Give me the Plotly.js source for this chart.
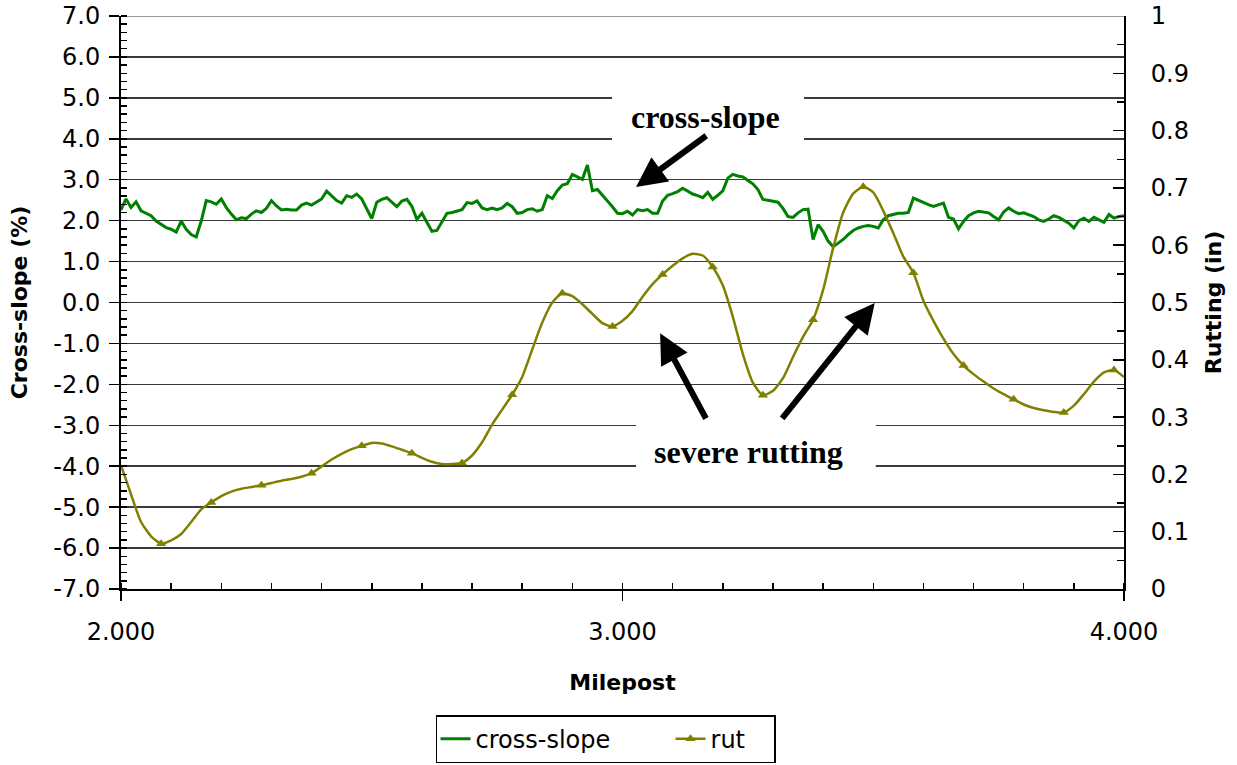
<!DOCTYPE html>
<html>
<head>
<meta charset="utf-8">
<script src="https://cdn.plot.ly/plotly-3.0.1.min.js"></script>
<style>html,body{margin:0;padding:0;background:#fff;}#chart{width:1237px;height:765px;}</style>
</head>
<body>
<div id="chart"></div>
<script>
// ---- data ----
const csStartMile = 2.00;
const csStepMile = 0.01;
const crossSlopePct = [
  2.26, 2.53, 2.32, 2.46, 2.24, 2.18, 2.12, 1.99, 1.91, 1.83,
  1.79, 1.72, 1.99, 1.79, 1.66, 1.60, 1.99, 2.49, 2.46, 2.40,
  2.53, 2.32, 2.16, 2.02, 2.07, 2.05, 2.16, 2.24, 2.20, 2.30,
  2.49, 2.36, 2.26, 2.28, 2.26, 2.26, 2.38, 2.43, 2.38, 2.45,
  2.53, 2.72, 2.61, 2.49, 2.43, 2.61, 2.57, 2.65, 2.53, 2.30,
  2.05, 2.45, 2.52, 2.56, 2.44, 2.34, 2.48, 2.52, 2.35, 2.03,
  2.18, 1.97, 1.74, 1.76, 1.97, 2.18, 2.20, 2.23, 2.27, 2.44,
  2.42, 2.48, 2.31, 2.27, 2.31, 2.27, 2.31, 2.42, 2.34, 2.18,
  2.20, 2.27, 2.29, 2.23, 2.27, 2.61, 2.54, 2.73, 2.87, 2.90,
  3.13, 3.07, 3.01, 3.36, 2.73, 2.76, 2.61, 2.48, 2.34, 2.18,
  2.17, 2.23, 2.14, 2.27, 2.24, 2.27, 2.18, 2.18, 2.48, 2.62,
  2.66, 2.71, 2.79, 2.71, 2.65, 2.61, 2.56, 2.69, 2.52, 2.62,
  2.73, 3.04, 3.13, 3.09, 3.07, 2.98, 2.90, 2.76, 2.52, 2.50,
  2.48, 2.45, 2.30, 2.10, 2.08, 2.19, 2.27, 2.28, 1.54, 1.90,
  1.74, 1.50, 1.36, 1.45, 1.54, 1.66, 1.76, 1.82, 1.86, 1.88,
  1.86, 1.82, 2.02, 2.12, 2.15, 2.18, 2.18, 2.20, 2.55, 2.49,
  2.43, 2.39, 2.35, 2.39, 2.43, 2.08, 2.04, 1.80, 1.98, 2.12,
  2.19, 2.23, 2.21, 2.19, 2.10, 2.02, 2.21, 2.31, 2.23, 2.17,
  2.19, 2.15, 2.10, 2.02, 1.98, 2.04, 2.12, 2.08, 2.02, 1.94,
  1.82, 2.00, 2.06, 1.98, 2.08, 2.02, 1.96, 2.15, 2.06, 2.10,
  2.12
];

const rutStartMile = 2.00;
const rutStepMile = 0.02;
const rutInches = [
  0.216, 0.165, 0.117, 0.092, 0.079, 0.085, 0.096, 0.117, 0.139, 0.151,
  0.162, 0.170, 0.175, 0.178, 0.181, 0.185, 0.189, 0.192, 0.196, 0.202,
  0.214, 0.226, 0.236, 0.244, 0.250, 0.255, 0.254, 0.249, 0.243, 0.237,
  0.229, 0.222, 0.218, 0.218, 0.220, 0.233, 0.256, 0.287, 0.313, 0.339,
  0.370, 0.418, 0.465, 0.500, 0.516, 0.511, 0.497, 0.480, 0.464, 0.458,
  0.468, 0.485, 0.510, 0.532, 0.549, 0.564, 0.577, 0.585, 0.582, 0.562,
  0.530, 0.475, 0.410, 0.360, 0.338, 0.346, 0.368, 0.405, 0.440, 0.470,
  0.522, 0.595, 0.657, 0.690, 0.702, 0.692, 0.660, 0.621, 0.580, 0.552,
  0.503, 0.468, 0.437, 0.410, 0.390, 0.375, 0.362, 0.350, 0.340, 0.331,
  0.322, 0.316, 0.312, 0.309, 0.308, 0.320, 0.340, 0.362, 0.378, 0.382,
  0.370
];
const rutMarkerEvery = 5;   // a triangle on every 5th reading
const rutMarkerOffset = 4;

const xTickVals = [2, 3, 4];
const xTickLabels = ['2.000', '3.000', '4.000'];
const leftTickVals = [-7, -6, -5, -4, -3, -2, -1, 0, 1, 2, 3, 4, 5, 6, 7];
const leftTickLabels = ['-7.0', '-6.0', '-5.0', '-4.0', '-3.0', '-2.0', '-1.0', '0.0',
                        '1.0', '2.0', '3.0', '4.0', '5.0', '6.0', '7.0'];

const seriesNames = ['cross-slope', 'rut'];
const annotationTexts = ['cross-slope', 'severe rutting'];

// ---- build ----
const csMile = crossSlopePct.map((_, i) => +(csStartMile + i * csStepMile).toFixed(3));
const rutMile = rutInches.map((_, i) => +(rutStartMile + i * rutStepMile).toFixed(3));
const mkX = [], mkY = [];
rutInches.forEach((v, i) => { if (i % rutMarkerEvery === rutMarkerOffset) { mkX.push(rutMile[i]); mkY.push(v); } });

const GREEN = '#008000', OLIVE = '#808000';
const FONT = 'DejaVu Sans, Verdana, sans-serif';
const SERIF = 'Liberation Serif, Times New Roman, serif';

const traces = [
  { x: csMile, y: crossSlopePct, type: 'scatter', mode: 'lines', name: seriesNames[0],
    line: { color: GREEN, width: 3 }, yaxis: 'y', legendwidth: 190 },
  { x: rutMile, y: rutInches, type: 'scatter', mode: 'lines', name: seriesNames[1],
    line: { color: OLIVE, width: 2.5, shape: 'spline', smoothing: 0.6 }, yaxis: 'y2',
    showlegend: false, legendgroup: 'rut' },
  { x: mkX, y: mkY, type: 'scatter', mode: 'markers', name: seriesNames[1],
    marker: { symbol: 'triangle-up', size: 9, color: OLIVE }, yaxis: 'y2',
    showlegend: false, legendgroup: 'rut' },
  { x: [null], y: [null], type: 'scatter', mode: 'lines+markers', name: seriesNames[1],
    line: { color: OLIVE, width: 2.5 }, marker: { symbol: 'triangle-up', size: 9, color: OLIVE },
    yaxis: 'y2', legendgroup: 'rut', legendwidth: 58 }
];

const layout = {
  width: 1237, height: 765,
  margin: { l: 121, r: 113, t: 16, b: 176 },
  paper_bgcolor: '#fff', plot_bgcolor: '#fff',
  font: { family: FONT, size: 24, color: '#000' },
  showlegend: true,
  legend: {
    orientation: 'h', xref: 'container', yref: 'container',
    x: 0.4895, xanchor: 'center', y: 0.0653, yanchor: 'top',
    bordercolor: '#000', borderwidth: 1.5, bgcolor: '#fff',
    font: { family: FONT, size: 24, color: '#000' }
  },
  xaxis: {
    range: [2, 4], tickvals: xTickVals, ticktext: xTickLabels,
    ticks: 'outside', ticklen: 10, tickwidth: 1.5, tickcolor: '#000',
    minor: { dtick: 0.1, ticks: 'inside', ticklen: 6, tickwidth: 1.5, tickcolor: '#000', showgrid: false },
    showgrid: false, zeroline: false, showline: true, linecolor: '#000', linewidth: 2,
    ticklabelstandoff: 10,
    tickfont: { family: FONT, size: 24 },
    title: { text: 'Milepost', font: { family: FONT, size: 22, weight: 'bold' }, standoff: 30 },
    automargin: false
  },
  yaxis: {
    range: [-7, 7], tickvals: leftTickVals, ticktext: leftTickLabels,
    ticks: 'outside', ticklen: 10, tickwidth: 1.5, tickcolor: '#000',
    minor: { dtick: 0.2, ticks: 'inside', ticklen: 6, tickwidth: 1.5, tickcolor: '#000', showgrid: false },
    showgrid: true, gridcolor: '#3a3a3a', gridwidth: 1.5,
    zeroline: false, showline: true, linecolor: '#000', linewidth: 2,
    ticklabelstandoff: 4,
    tickfont: { family: FONT, size: 24 },
    title: { text: 'Cross-slope (%)', font: { family: FONT, size: 22, weight: 'bold' }, standoff: 20 },
    automargin: false
  },
  yaxis2: {
    range: [0, 1], dtick: 0.1, tick0: 0, overlaying: 'y', side: 'right',
    ticks: 'inside', ticklen: 11, tickwidth: 1.5, tickcolor: '#000',
    minor: { dtick: 0.05, ticks: 'inside', ticklen: 7, tickwidth: 1.5, tickcolor: '#000', showgrid: false },
    showgrid: false, zeroline: false, showline: true, linecolor: '#000', linewidth: 2,
    ticklabelstandoff: 20,
    tickfont: { family: FONT, size: 24 },
    title: { text: 'Rutting (in)', font: { family: FONT, size: 22, weight: 'bold' }, standoff: 18 },
    automargin: false
  },
  shapes: [
    { type: 'line', xref: 'paper', x0: 0, x1: 1, yref: 'y', y0: 7, y1: 7, layer: 'between',
      line: { color: '#9a9a9a', width: 2 } },
    { type: 'rect', xref: 'x', yref: 'y', x0: 2.979, x1: 3.362, y0: 3.55, y1: 5.2,
      fillcolor: '#fff', line: { width: 0 }, layer: 'between' },
    { type: 'rect', xref: 'x', yref: 'y', x0: 3.027, x1: 3.505, y0: -4.55, y1: -2.55,
      fillcolor: '#fff', line: { width: 0 }, layer: 'between' }
  ],
  annotations: [
    { xref: 'x', yref: 'y', x: 3.165, y: 4.53, text: annotationTexts[0], showarrow: false,
      font: { family: SERIF, size: 32, weight: 'bold', color: '#000' } },
    { xref: 'x', yref: 'y', x: 3.252, y: -3.65, text: annotationTexts[1], showarrow: false,
      font: { family: SERIF, size: 32, weight: 'bold', color: '#000' } },
    { xref: 'x', yref: 'y', x: 3.027, y: 2.82, axref: 'x', ayref: 'y', ax: 3.170, ay: 4.10,
      text: '', showarrow: true, arrowhead: 2, arrowsize: 1, arrowwidth: 6, arrowcolor: '#000', standoff: 0 },
    { xref: 'x', yref: 'y', x: 3.075, y: -0.75, axref: 'x', ayref: 'y', ax: 3.168, ay: -2.87,
      text: '', showarrow: true, arrowhead: 2, arrowsize: 1, arrowwidth: 6, arrowcolor: '#000', standoff: 0 },
    { xref: 'x', yref: 'y', x: 3.503, y: -0.01, axref: 'x', ayref: 'y', ax: 3.316, ay: -2.87,
      text: '', showarrow: true, arrowhead: 2, arrowsize: 1, arrowwidth: 6, arrowcolor: '#000', standoff: 0 }
  ]
};

Plotly.newPlot('chart', traces, layout, { displayModeBar: false, staticPlot: true });
</script>
</body>
</html>
